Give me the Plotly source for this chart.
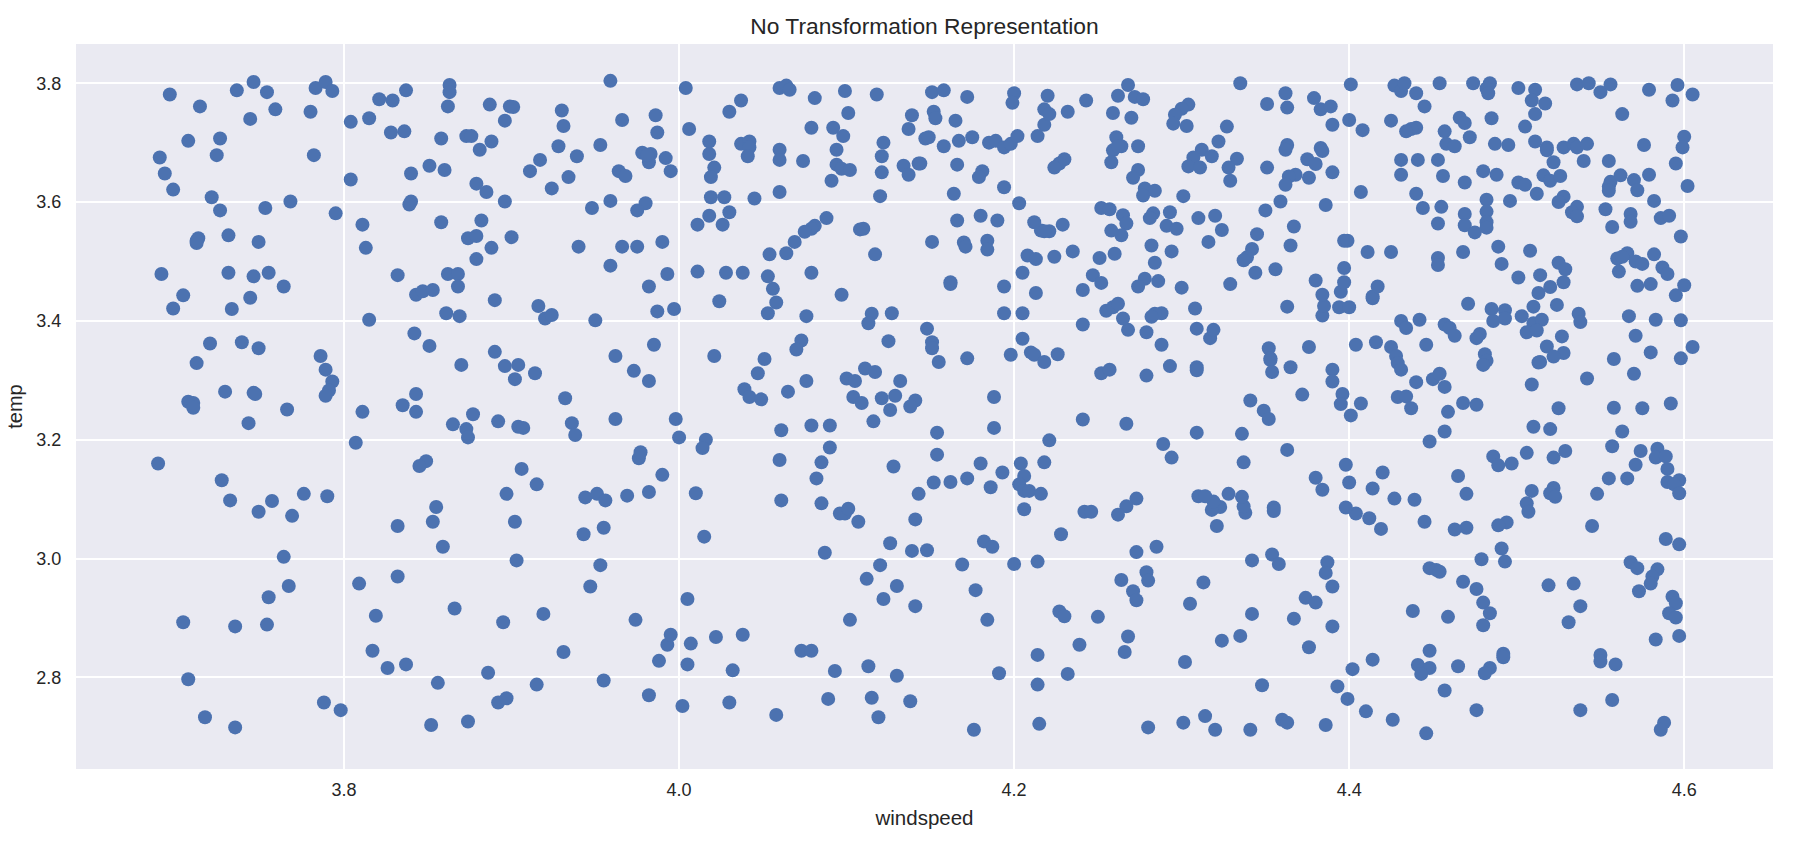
import plotly.graph_objects as go

TITLE = "No Transformation Representation"
X_LABEL = "windspeed"
Y_LABEL = "temp"
x_ticks = [3.8, 4.0, 4.2, 4.4, 4.6]
y_ticks = [2.8, 3.0, 3.2, 3.4, 3.6, 3.8]

# (windspeed, temp) readings, grouped by area of the picture
readings_a = [
(3.696,3.781),(3.714,3.761),(3.736,3.788),(3.746,3.802),(3.754,3.785),(3.759,3.756),(3.744,3.740),(3.780,3.752),(3.783,3.792),(3.789,3.802),
(3.793,3.787),(3.804,3.735),(3.815,3.741),(3.821,3.773),(3.829,3.771),(3.837,3.788),(3.863,3.797),(3.863,3.785),(3.862,3.761),(3.887,3.764),
(3.899,3.761),(3.901,3.760),(3.896,3.737),(3.828,3.717),(3.836,3.719),(3.858,3.707),(3.873,3.711),(3.876,3.711),(3.888,3.702),(3.881,3.688),
(3.707,3.703),(3.726,3.707),(3.724,3.679),(3.690,3.675),(3.693,3.648),(3.698,3.621),(3.782,3.679),(3.804,3.638),(3.840,3.648),(3.851,3.661),
(3.860,3.654),(3.879,3.631),(3.885,3.617),(3.917,3.671),(3.911,3.652),(3.924,3.623),(3.721,3.608),(3.726,3.586),(3.753,3.590),(3.768,3.601),
(3.795,3.581),(3.840,3.601),(3.839,3.596),(3.896,3.601),(3.811,3.562),(3.858,3.566),(3.882,3.569),(3.874,3.539),(3.879,3.543),(3.900,3.541),
(3.888,3.523),(3.813,3.523),(3.879,3.504),(3.713,3.539),(3.712,3.531),(3.712,3.535),(3.731,3.544),(3.749,3.533),(3.691,3.479),(3.731,3.481),
(3.746,3.475),(3.755,3.481),(3.764,3.458),(3.704,3.443),(3.698,3.421),(3.733,3.420),(3.744,3.439),(3.832,3.477),(3.862,3.479),(3.868,3.479),
(3.868,3.458),(3.843,3.444),(3.847,3.450),(3.853,3.452),(3.890,3.435),(3.861,3.413),(3.869,3.408),(3.916,3.425),(3.920,3.404),(3.924,3.410),
(3.815,3.402),(3.842,3.379),(3.851,3.358),(3.890,3.348),(3.720,3.362),(3.739,3.364),(3.749,3.354),(3.786,3.341),
]
readings_b = [
(3.712,3.329),(3.870,3.326),(3.896,3.324),(3.904,3.326),(3.914,3.312),(3.902,3.302),(3.789,3.318),(3.793,3.298),(3.791,3.283),(3.789,3.274),
(3.729,3.281),(3.746,3.279),(3.747,3.277),(3.707,3.264),(3.710,3.262),(3.710,3.254),(3.766,3.251),(3.743,3.228),(3.811,3.247),(3.843,3.277),
(3.835,3.258),(3.843,3.247),(3.877,3.243),(3.865,3.226),(3.873,3.218),(3.874,3.204),(3.892,3.231),(3.904,3.222),(3.907,3.220),(3.807,3.195),
(3.689,3.160),(3.849,3.164),(3.845,3.156),(3.906,3.151),(3.915,3.125),(3.727,3.132),(3.732,3.098),(3.749,3.079),(3.757,3.097),(3.769,3.072),
(3.776,3.109),(3.790,3.105),(3.897,3.109),(3.855,3.087),(3.853,3.062),(3.832,3.055),(3.902,3.062),(3.859,3.020),(3.764,3.003),(3.903,2.997),
(3.767,2.954),(3.755,2.935),(3.832,2.970),(3.809,2.958),(3.819,2.904),(3.866,2.916),(3.919,2.907),(3.895,2.893),(3.704,2.893),(3.735,2.886),
(3.754,2.889),(3.817,2.845),(3.826,2.816),(3.837,2.822),(3.886,2.808),(3.915,2.788),(3.707,2.797),(3.717,2.733),(3.735,2.716),(3.788,2.758),
(3.798,2.745),(3.856,2.791),(3.852,2.720),(3.874,2.726),(3.892,2.758),(3.897,2.765),
]
readings_c = [
(3.930,3.754),(3.931,3.728),(3.928,3.694),(3.939,3.677),(3.934,3.642),(3.953,3.696),(3.959,3.804),(3.966,3.738),(3.986,3.746),(3.987,3.717),
(3.978,3.683),(3.983,3.681),(3.982,3.667),(3.981,3.679),(3.992,3.674),(3.995,3.652),(3.964,3.652),(3.968,3.644),(3.948,3.590),(3.959,3.602),
(3.980,3.598),(3.975,3.586),(3.940,3.525),(3.966,3.525),(3.975,3.525),(3.990,3.533),(3.959,3.493),(3.993,3.479),(3.982,3.458),(3.987,3.416),
(3.997,3.420),(3.950,3.401),(3.985,3.360),(3.962,3.341),(4.004,3.792),(4.006,3.723),(4.037,3.771),(4.030,3.752),(4.060,3.792),(4.064,3.796),
(4.066,3.789),(4.081,3.775),(4.099,3.787),(4.101,3.750),(4.118,3.781),(4.151,3.785),(4.158,3.788),(4.172,3.777),(4.200,3.783),(4.199,3.767),
(4.220,3.779),(4.218,3.756),(4.218,3.730),(4.214,3.711),(4.152,3.752),(4.153,3.741),(4.139,3.746),(4.137,3.723),(4.165,3.737),(4.147,3.707),
(4.149,3.709),(4.167,3.703),(4.175,3.709),(4.158,3.694),(4.185,3.700),(4.189,3.703),(4.194,3.692),(4.198,3.698),(4.202,3.711),(4.079,3.725),
(4.092,3.725),(4.098,3.711),(4.094,3.688),(4.122,3.700),(4.121,3.677),(4.121,3.650),(4.134,3.661),(4.137,3.646),(4.143,3.665),(4.144,3.665),
(4.120,3.610),(4.166,3.663),(4.181,3.652),(4.179,3.642),(4.194,3.625),(4.164,3.614),(4.203,3.598),(4.166,3.569),(4.180,3.577),(4.190,3.569),
(4.212,3.566),(4.216,3.552),(4.151,3.533),(4.170,3.532),(4.171,3.525),(4.184,3.535),(4.184,3.520),(4.208,3.510),(4.213,3.504),(4.205,3.481),
(4.194,3.458),(4.213,3.447),(4.194,3.413),(4.205,3.413),(4.205,3.370),(4.198,3.343),(4.210,3.347),(4.212,3.343),(4.172,3.337),(4.162,3.465),
(4.162,3.462),(4.148,3.387),(4.151,3.364),(4.151,3.354),(4.125,3.366),(4.127,3.413),(4.115,3.412),(4.113,3.396),(4.097,3.444),(4.117,3.512),
(4.108,3.554),(4.110,3.555),(4.088,3.573),(4.081,3.560),(4.079,3.555),(4.075,3.550),(4.069,3.533),(4.064,3.514),(4.054,3.512),(4.079,3.481),
(4.053,3.475),(4.056,3.454),(4.058,3.431),(4.053,3.413),(4.076,3.408),(4.073,3.367),(4.070,3.352),(4.051,3.336),(4.011,3.483),(4.028,3.481),
(4.038,3.481),(4.024,3.433),(4.011,3.562),(4.018,3.577),(4.026,3.562),(4.030,3.583),(4.019,3.608),(4.027,3.608),(4.045,3.606),(4.060,3.617),
(4.018,3.702),(4.018,3.681),(4.021,3.658),(4.019,3.642),(4.037,3.698),(4.042,3.702),(4.042,3.692),(4.041,3.677),(4.060,3.688),(4.060,3.671),
(4.074,3.669),(4.094,3.663),(4.097,3.656),(4.102,3.654),(4.091,3.636),
]
readings_d = [
(4.021,3.341),(3.973,3.316),(3.982,3.299),(4.047,3.312),(4.039,3.285),(4.042,3.272),(4.049,3.268),(4.065,3.281),(4.076,3.299),(4.100,3.303),
(4.105,3.299),(4.111,3.320),(4.117,3.314),(4.132,3.299),(4.129,3.274),(4.121,3.270),(4.104,3.272),(4.109,3.262),(4.141,3.266),(4.138,3.256),
(4.126,3.250),(4.116,3.231),(4.155,3.331),(4.188,3.272),(4.188,3.220),(4.154,3.212),(4.154,3.175),(4.090,3.224),(4.079,3.224),(4.061,3.216),
(4.090,3.187),(4.085,3.162),(4.060,3.166),(4.082,3.135),(4.128,3.155),(4.180,3.160),(4.193,3.145),(4.172,3.135),(4.162,3.129),(4.152,3.128),
(4.143,3.109),(4.186,3.120),(4.204,3.160),(4.206,3.139),(4.203,3.125),(4.206,3.114),(4.209,3.114),(4.216,3.109),(4.218,3.162),(4.221,3.199),
(4.206,3.083),(4.061,3.098),(4.085,3.093),(4.096,3.076),(4.099,3.076),(4.101,3.084),(4.107,3.062),(4.141,3.066),(4.126,3.026),(4.139,3.013),
(4.148,3.014),(4.182,3.029),(4.187,3.020),(4.087,3.010),(4.169,2.990),(4.200,2.991),(4.214,2.995),(4.120,2.989),(4.112,2.966),(4.130,2.954),
(4.122,2.932),(4.141,2.920),(4.177,2.947),(4.184,2.897),(4.102,2.897),(4.214,2.838),(4.191,2.807),(4.073,2.845),(4.079,2.845),(4.093,2.811),
(4.113,2.819),(4.032,2.812),(4.005,2.822),(3.988,2.828),(4.007,2.857),(3.993,2.855),(3.995,2.872),(4.022,2.868),(4.038,2.872),(4.005,2.932),
(4.015,3.037),(4.010,3.110),(3.990,3.141),(3.982,3.112),(3.969,3.106),(3.976,3.169),(3.977,3.179),(4.016,3.200),(4.014,3.186),(4.000,3.204),
(3.998,3.235),(3.962,3.235),(3.932,3.270),(3.936,3.228),(3.938,3.208),(3.944,3.103),(3.951,3.109),(3.956,3.098),(3.943,3.041),(3.955,3.052),
(3.953,2.989),(3.947,2.953),(3.974,2.897),(3.931,2.843),(3.955,2.795),(3.982,2.770),(4.002,2.752),(4.030,2.758),(4.058,2.737),(4.089,2.764),
(4.115,2.766),(4.138,2.760),(4.119,2.733),(4.176,2.712),(4.214,2.788),(4.215,2.722),(4.130,2.803),
]
readings_e = [
(4.221,3.748),(4.232,3.752),(4.243,3.771),(4.262,3.779),(4.268,3.797),(4.272,3.777),(4.277,3.773),(4.259,3.750),(4.270,3.742),(4.261,3.709),
(4.264,3.694),(4.274,3.694),(4.259,3.687),(4.262,3.694),(4.258,3.667),(4.274,3.654),(4.271,3.641),(4.278,3.623),(4.284,3.619),(4.277,3.611),
(4.301,3.610),(4.304,3.764),(4.300,3.757),(4.296,3.747),(4.295,3.732),(4.303,3.728),(4.327,3.727),(4.322,3.702),(4.335,3.800),(4.312,3.688),
(4.318,3.677),(4.307,3.675),(4.304,3.660),(4.311,3.658),(4.333,3.673),(4.328,3.658),(4.329,3.636),(4.351,3.765),(4.362,3.783),(4.363,3.759),
(4.379,3.775),(4.383,3.756),(4.389,3.761),(4.390,3.730),(4.401,3.798),(4.400,3.738),(4.408,3.721),(4.427,3.796),(4.431,3.787),(4.433,3.800),
(4.440,3.783),(4.445,3.761),(4.454,3.800),(4.474,3.800),(4.484,3.800),(4.482,3.791),(4.483,3.783),(4.501,3.792),(4.511,3.789),(4.509,3.771),
(4.511,3.748),(4.425,3.737),(4.440,3.725),(4.437,3.723),(4.434,3.719),(4.466,3.742),(4.469,3.733),(4.457,3.719),(4.472,3.709),(4.485,3.741),
(4.505,3.727),(4.511,3.702),(4.458,3.698),(4.463,3.694),(4.487,3.698),(4.495,3.696),(4.431,3.671),(4.441,3.671),(4.453,3.671),(4.431,3.646),
(4.456,3.644),(4.469,3.633),(4.480,3.652),(4.488,3.646),(4.501,3.633),(4.505,3.629),(4.512,3.614),(4.440,3.614),(4.444,3.590),(4.455,3.592),
(4.482,3.604),(4.482,3.584),(4.496,3.602),(4.469,3.580),(4.469,3.561),(4.453,3.564),(4.482,3.566),(4.482,3.557),(4.475,3.549),(4.489,3.525),
(4.468,3.516),(4.508,3.518),(4.453,3.506),(4.453,3.494),(4.491,3.496),(4.501,3.473),(4.471,3.429),(4.485,3.420),(4.493,3.418),(4.486,3.400),
(4.493,3.404),(4.503,3.408),(4.510,3.424),(4.510,3.396),(4.506,3.381),(4.513,3.447),(4.431,3.400),(4.434,3.388),(4.442,3.402),(4.457,3.394),
(4.460,3.388),(4.463,3.375),(4.478,3.378),(4.476,3.371),(4.446,3.360),(4.481,3.344),(4.425,3.356),(4.428,3.341),(4.416,3.364),(4.404,3.360),
(4.376,3.356),(4.352,3.354),(4.353,3.337),(4.317,3.371),(4.319,3.385),(4.309,3.387),(4.288,3.360),(4.279,3.381),(4.268,3.385),(4.265,3.404),
(4.288,3.413),(4.284,3.412),(4.282,3.407),(4.241,3.394),(4.255,3.417),(4.259,3.423),(4.262,3.429),(4.308,3.421),(4.363,3.424),(4.384,3.409),
(4.385,3.425),(4.384,3.444),(4.380,3.468),(4.394,3.423),(4.400,3.423),(4.395,3.449),(4.397,3.465),(4.397,3.489),(4.414,3.438),(4.414,3.441),
(4.417,3.458),(4.411,3.516),(4.425,3.516),(4.397,3.535),(4.399,3.535),(4.386,3.595),(4.407,3.617),(4.359,3.601),(4.350,3.586),(4.367,3.559),
(4.345,3.546),(4.365,3.527),(4.342,3.521),(4.339,3.507),(4.337,3.502),(4.344,3.481),(4.356,3.487),(4.329,3.462),(4.300,3.456),(4.286,3.467),
(4.278,3.471),(4.274,3.458),(4.247,3.477),(4.252,3.464),(4.241,3.452),(4.224,3.508),(4.235,3.517),(4.251,3.506),(4.260,3.513),(4.284,3.498),
(4.294,3.517),(4.282,3.527),(4.316,3.533),(4.291,3.560),(4.297,3.555),(4.324,3.553),(4.310,3.573),(4.320,3.577),(4.293,3.583),(4.283,3.581),
(4.281,3.573),(4.265,3.578),(4.267,3.564),(4.264,3.544),(4.258,3.552),(4.252,3.590),(4.257,3.588),(4.229,3.562),(4.221,3.551),(4.218,3.551),
(4.230,3.672),(4.227,3.665),(4.224,3.658),(4.363,3.696),(4.362,3.688),(4.383,3.691),(4.384,3.686),(4.375,3.672),(4.380,3.664),(4.390,3.650),
(4.351,3.658),(4.376,3.641),(4.368,3.646),(4.364,3.643),(4.362,3.629),
]
readings_f = [
(4.226,3.344),(4.218,3.331),(4.252,3.312),(4.257,3.318),(4.279,3.308),(4.293,3.324),(4.309,3.322),(4.309,3.317),(4.353,3.334),(4.354,3.314),
(4.365,3.322),(4.390,3.318),(4.390,3.298),(4.372,3.276),(4.396,3.277),(4.395,3.260),(4.407,3.261),(4.401,3.241),(4.341,3.266),(4.349,3.249),
(4.352,3.235),(4.429,3.329),(4.431,3.318),(4.440,3.297),(4.450,3.302),(4.454,3.311),(4.457,3.289),(4.482,3.333),(4.480,3.326),(4.509,3.293),
(4.513,3.330),(4.429,3.272),(4.434,3.273),(4.437,3.253),(4.468,3.262),(4.476,3.259),(4.459,3.247),(4.457,3.214),(4.448,3.197),(4.510,3.222),
(4.241,3.234),(4.267,3.227),(4.309,3.212),(4.336,3.210),(4.289,3.193),(4.294,3.170),(4.337,3.162),(4.363,3.183),(4.398,3.158),(4.400,3.128),
(4.380,3.136),(4.384,3.116),(4.414,3.118),(4.420,3.145),(4.427,3.101),(4.439,3.099),(4.465,3.139),(4.470,3.109),(4.486,3.172),(4.489,3.157),
(4.497,3.160),(4.506,3.178),(4.509,3.114),(4.506,3.093),(4.507,3.079),(4.494,3.061),(4.489,3.056),(4.470,3.052),(4.463,3.049),(4.445,3.062),
(4.419,3.050),(4.412,3.068),(4.404,3.076),(4.398,3.086),(4.355,3.086),(4.355,3.080),(4.338,3.077),(4.337,3.088),(4.336,3.104),(4.328,3.109),
(4.323,3.087),(4.318,3.082),(4.319,3.096),(4.310,3.105),(4.314,3.105),(4.321,3.055),(4.273,3.101),(4.267,3.088),(4.262,3.074),(4.242,3.079),
(4.246,3.079),(4.228,3.041),(4.273,3.011),(4.285,3.020),(4.342,2.997),(4.354,3.007),(4.358,2.991),(4.387,2.994),(4.386,2.976),(4.390,2.953),
(4.374,2.934),(4.380,2.926),(4.367,2.899),(4.390,2.886),(4.376,2.851),(4.342,2.907),(4.335,2.870),(4.324,2.862),(4.305,2.924),(4.313,2.960),
(4.302,2.826),(4.279,2.977),(4.280,2.963),(4.264,2.964),(4.271,2.945),(4.273,2.930),(4.227,2.911),(4.230,2.903),(4.250,2.902),(4.268,2.869),
(4.266,2.843),(4.239,2.855),(4.232,2.806),(4.438,2.912),(4.459,2.902),(4.468,2.961),(4.476,2.949),(4.480,2.926),(4.484,2.908),(4.480,2.888),
(4.448,2.984),(4.452,2.981),(4.454,2.978),(4.479,2.999),(4.491,3.017),(4.493,2.995),(4.448,2.845),(4.414,2.830),(4.441,2.821),(4.444,2.813),
(4.448,2.816),(4.443,2.806),(4.465,2.819),(4.492,2.840),(4.492,2.834),(4.484,2.816),(4.481,2.807),(4.402,2.814),(4.348,2.787),(4.280,2.716),
(4.301,2.724),(4.314,2.735),(4.320,2.712),(4.341,2.712),(4.360,2.729),(4.363,2.724),(4.386,2.720),(4.393,2.785),(4.399,2.764),(4.410,2.743),
(4.426,2.729),(4.446,2.706),(4.457,2.778),(4.476,2.745),
]
readings_g = [
(4.536,3.798),(4.543,3.800),(4.550,3.785),(4.556,3.798),(4.579,3.789),(4.596,3.797),(4.593,3.771),(4.605,3.781),(4.517,3.766),(4.563,3.748),
(4.600,3.710),(4.599,3.692),(4.576,3.696),(4.595,3.665),(4.555,3.669),(4.518,3.692),(4.518,3.687),(4.528,3.692),(4.534,3.698),(4.536,3.692),
(4.542,3.698),(4.540,3.669),(4.522,3.667),(4.516,3.645),(4.520,3.636),(4.526,3.644),(4.528,3.609),(4.525,3.600),(4.536,3.592),(4.533,3.583),
(4.536,3.576),(4.556,3.634),(4.555,3.626),(4.555,3.619),(4.562,3.645),(4.570,3.637),(4.572,3.620),(4.579,3.646),(4.602,3.627),(4.582,3.602),
(4.553,3.588),(4.568,3.580),(4.568,3.567),(4.557,3.558),(4.586,3.573),(4.591,3.577),(4.598,3.542),(4.560,3.505),(4.566,3.514),(4.571,3.500),
(4.575,3.496),(4.563,3.508),(4.582,3.512),(4.587,3.490),(4.590,3.479),(4.561,3.483),(4.525,3.498),(4.529,3.487),(4.514,3.477),(4.528,3.465),
(4.520,3.457),(4.572,3.459),(4.580,3.462),(4.600,3.460),(4.595,3.443),(4.524,3.427),(4.537,3.412),(4.538,3.398),(4.567,3.408),(4.583,3.402),
(4.598,3.401),(4.515,3.402),(4.512,3.384),(4.527,3.374),(4.571,3.375),(4.518,3.357),(4.605,3.356),(4.580,3.347),(4.528,3.346),(4.522,3.340),
]
readings_h = [
(4.514,3.331),(4.558,3.336),(4.598,3.337),(4.570,3.311),(4.542,3.303),(4.525,3.253),(4.558,3.254),(4.575,3.253),(4.592,3.261),(4.520,3.218),
(4.563,3.214),(4.557,3.189),(4.574,3.181),(4.584,3.185),(4.583,3.170),(4.589,3.172),(4.590,3.151),(4.571,3.158),(4.529,3.181),(4.522,3.170),
(4.555,3.135),(4.566,3.135),(4.590,3.129),(4.597,3.132),(4.594,3.125),(4.597,3.110),(4.548,3.109),(4.522,3.119),(4.520,3.110),(4.523,3.104),
(4.545,3.055),(4.589,3.033),(4.597,3.024),(4.568,2.994),(4.572,2.984),(4.584,2.982),(4.581,2.970),(4.580,2.958),(4.573,2.945),(4.519,2.955),
(4.534,2.958),(4.538,2.920),(4.531,2.893),(4.593,2.936),(4.595,2.925),(4.591,2.908),(4.595,2.901),(4.583,2.864),(4.597,2.870),(4.550,2.838),
(4.550,2.827),(4.559,2.822),(4.538,2.745),(4.557,2.762),(4.588,2.724),(4.586,2.712),
]

all_readings = (readings_a + readings_b + readings_c + readings_d
                + readings_e + readings_f + readings_g + readings_h)
windspeed = [p[0] for p in all_readings]
temp = [p[1] for p in all_readings]

INK = "#262626"
fig = go.Figure(go.Scatter(
    x=windspeed, y=temp, mode="markers",
    marker=dict(color="#4c72b0", size=14, line=dict(width=0)),
    hoverinfo="skip", showlegend=False,
))
fig.update_layout(
    width=1795, height=848, autosize=False,
    margin=dict(l=76, r=22, t=44, b=79),
    paper_bgcolor="white", plot_bgcolor="#eaeaf2",
    font=dict(family="Liberation Sans, Arial, sans-serif", color=INK, size=18),
    title=dict(text=TITLE, x=(76 + 1773) / 2 / 1795, xanchor="center",
               y=1 - 26 / 848, yanchor="middle", font=dict(size=22.8, color=INK)),
)
fig.update_xaxes(
    range=[3.64, 4.653], tickvals=x_ticks, ticktext=[f"{v:.1f}" for v in x_ticks],
    showgrid=True, gridcolor="white", gridwidth=2, zeroline=False, showline=False,
    ticks="outside", ticklen=4, tickcolor="rgba(0,0,0,0)",
    title=dict(text=X_LABEL, standoff=12, font=dict(size=20.5, color=INK)),
    tickfont=dict(size=18, color=INK),
)
fig.update_yaxes(
    range=[2.646, 3.866], tickvals=y_ticks, ticktext=[f"{v:.1f}" for v in y_ticks],
    showgrid=True, gridcolor="white", gridwidth=2, zeroline=False, showline=False,
    ticks="outside", ticklen=10, tickcolor="rgba(0,0,0,0)",
    title=dict(text=Y_LABEL, standoff=8, font=dict(size=20, color=INK)),
    tickfont=dict(size=18, color=INK),
)
fig.write_html("out.html", post_script="document.body.style.margin='0';",
               config={"displayModeBar": False})
